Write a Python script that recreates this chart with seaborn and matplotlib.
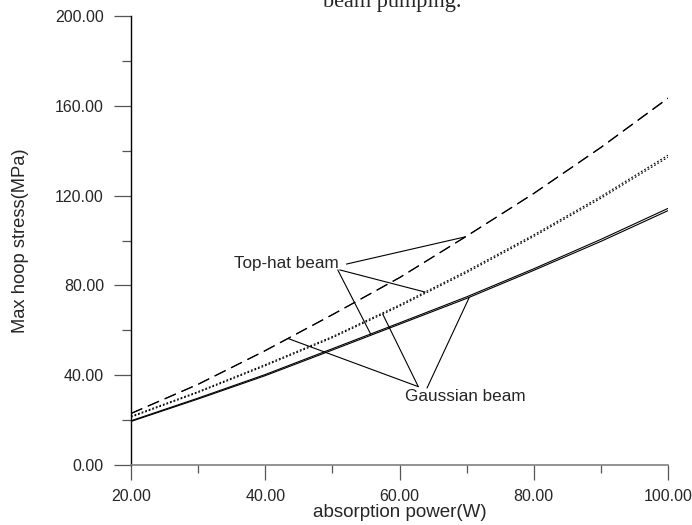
import numpy as np
import pandas as pd
import seaborn as sns
import matplotlib
matplotlib.use("Agg")
import matplotlib.pyplot as plt
from matplotlib.ticker import MultipleLocator, FormatStrFormatter

# ---- data ----
power = [20, 30, 40, 50, 60, 70, 80, 90, 100]
dashed_top = [23.0, 36.0, 51.0, 67.0, 83.5, 102.0, 121.0, 141.5, 163.5]
dashed_gauss = [22.9, 35.9, 50.9, 66.9, 83.4, 101.9, 120.9, 141.4, 163.3]
dotted_top = [21.7, 32.7, 44.7, 57.2, 71.3, 86.4, 102.5, 119.6, 138.0]
dotted_gauss = [21.3, 32.3, 44.2, 56.7, 70.7, 85.7, 101.8, 118.8, 137.1]
solid_top = [19.7, 29.8, 40.3, 51.8, 63.3, 74.9, 87.4, 100.5, 114.3]
solid_gauss = [19.4, 29.4, 39.8, 51.2, 62.7, 74.2, 86.7, 99.6, 113.3]

series_names = ["dashed_top", "dashed_gauss", "dotted_top", "dotted_gauss",
                "solid_top", "solid_gauss"]
series_vals = [dashed_top, dashed_gauss, dotted_top, dotted_gauss,
               solid_top, solid_gauss]

# annotation targets (x on each curve)
top_hat_targets = {"dashed_top": 69.8, "dotted_top": 63.8, "solid_top": 55.7}
gauss_targets = {"dashed_gauss": 43.4, "dotted_gauss": 57.5, "solid_gauss": 70.4}

x_ticks = [20, 40, 60, 80, 100]
y_ticks = [0, 40, 80, 120, 160, 200]

rows = []
for name, vals in zip(series_names, series_vals):
    for p, v in zip(power, vals):
        rows.append({"power": p, "stress": v, "series": name})
df = pd.DataFrame(rows)

sns.set_style("white")
plt.rcParams["font.family"] = ["Liberation Sans", "DejaVu Sans"]

fig = plt.figure(figsize=(6.92, 5.25), dpi=100)
ax = fig.add_axes([131 / 692, 1 - 465 / 525, 537 / 692, 449 / 525])

styles = {
    "dashed": (0, (11, 5.5)),
    "dotted": (0, (1.6, 1.8)),
    "solid": "-",
}
for name in series_names:
    sub = df[df["series"] == name]
    ls = styles[name.split("_")[0]]
    sns.lineplot(data=sub, x="power", y="stress", ax=ax, color="black",
                 linewidth=0.8, linestyle=ls, legend=False)

ax.set_xlim(20, 100)
ax.set_ylim(0, 200)
ax.set_xticks(x_ticks)
ax.set_yticks(y_ticks)
ax.xaxis.set_minor_locator(MultipleLocator(10))
ax.yaxis.set_minor_locator(MultipleLocator(20))
ax.xaxis.set_major_formatter(FormatStrFormatter("%.2f"))
ax.yaxis.set_major_formatter(FormatStrFormatter("%.2f"))

for s in ["top", "right"]:
    ax.spines[s].set_visible(False)
ax.spines["left"].set_color("black")
ax.spines["left"].set_linewidth(1.0)
ax.spines["bottom"].set_color("#808080")
ax.spines["bottom"].set_linewidth(1.2)

ax.tick_params(axis="y", which="major", direction="out", length=12.5, width=0.9,
               color="#555555", labelsize=11.5, pad=7, left=True)
ax.tick_params(axis="y", which="minor", direction="out", length=6.5, width=0.9,
               color="#555555", left=True)
ax.tick_params(axis="x", which="major", direction="out", length=11, width=0.9,
               color="#555555", labelsize=11.5, pad=6, bottom=True)
ax.tick_params(axis="x", which="minor", direction="out", length=5.5, width=0.9,
               color="#555555", bottom=True)

ax.set_xlabel("absorption power(W)", fontsize=13.5, labelpad=0.5)
ax.set_ylabel("Max hoop stress(MPa)", fontsize=13.2, labelpad=19)

# annotations
top_text = (43.2, 89.8)
gauss_text = (69.8, 30.7)
ax.text(*top_text, "Top-hat beam", fontsize=12.3, ha="center", va="center")
ax.text(*gauss_text, "Gaussian beam", fontsize=12.3, ha="center", va="center")

top_starts = {"dashed_top": (52.1, 89.5), "dotted_top": (51.1, 86.9),
              "solid_top": (50.8, 86.9)}
gauss_starts = {"dashed_gauss": (62.8, 34.9), "dotted_gauss": (62.8, 34.9),
                "solid_gauss": (64.1, 34.3)}

for targets, starts in ((top_hat_targets, top_starts), (gauss_targets, gauss_starts)):
    for name, tx in targets.items():
        vals = series_vals[series_names.index(name)]
        ty = float(np.interp(tx, power, vals))
        sx, sy = starts[name]
        ax.annotate("", xy=(tx, ty), xytext=(sx, sy),
                    arrowprops=dict(arrowstyle="-", color="black", lw=0.8,
                                    shrinkA=0, shrinkB=0))

fig.text(392 / 692, 1 - 7 / 525, "beam pumping.", ha="center", va="baseline",
         fontsize=16, family=["Liberation Serif", "DejaVu Serif"])

fig.savefig("out.png", dpi=100)
